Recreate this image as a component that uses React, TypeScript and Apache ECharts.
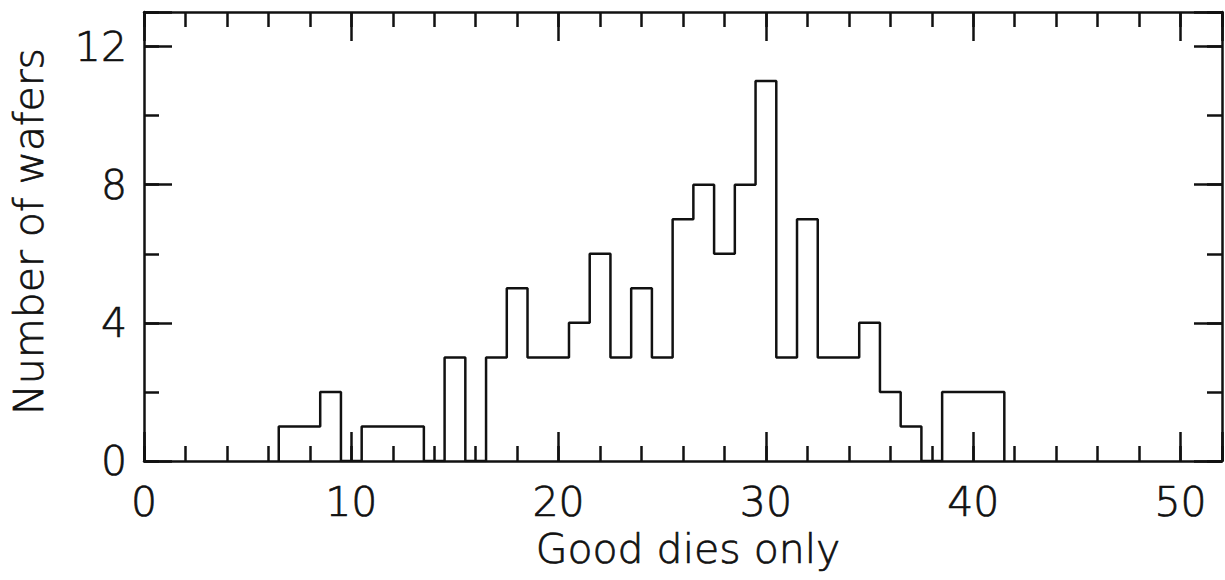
import React, { useEffect, useRef } from "react";
import * as echarts from "echarts";

// Histogram: bin centres (good dies per wafer) and counts (number of wafers)
const binCenters = [7, 8, 9, 10, 11, 12, 13, 14, 15, 16, 17, 18, 19, 20, 21, 22, 23, 24, 25, 26, 27, 28, 29, 30, 31, 32, 33, 34, 35, 36, 37, 38, 39, 40, 41];
const counts = [1, 1, 2, 0, 1, 1, 1, 0, 3, 0, 3, 5, 3, 3, 4, 6, 3, 5, 3, 7, 8, 6, 8, 11, 3, 7, 3, 3, 4, 2, 1, 0, 2, 2, 2];
const binWidth = 1;

const xLabelTicks = [0, 10, 20, 30, 40, 50];
const yLabelTicks = [0, 4, 8, 12];
const xRange = [0, 52];
const yRange = [0, 13];

const xTitle = "Good dies only";
const yTitle = "Number of wafers";

export default function App() {
  const ref = useRef<HTMLDivElement>(null);
  useEffect(() => {
    if (!ref.current) return;
    const chart = echarts.init(ref.current, undefined, { renderer: "svg" });

    // step outline points: leading zero, left edge of each bin, trailing zero
    const pts: number[][] = [];
    pts.push([binCenters[0] - binWidth / 2, 0]);
    binCenters.forEach((c, i) => pts.push([c - binWidth / 2, counts[i]]));
    pts.push([binCenters[binCenters.length - 1] + binWidth / 2, 0]);

    const font = {
      fontFamily: "DejaVu Sans",
      fontWeight: 200 as any,
      color: "#111",
      fontSize: 41,
      textBorderColor: "#111",
      textBorderWidth: 0.7,
    };
    const lw = 2.5;
    const lineStyle = { color: "#111", width: lw };

    const mkX = (pos: "top" | "bottom", major: boolean, labels: boolean) => ({
      type: "value",
      position: pos,
      min: xRange[0],
      max: xRange[1],
      interval: major ? 10 : 2,
      axisLine: { show: major, onZero: false, lineStyle },
      axisTick: { show: true, inside: true, length: major ? 29 : 15, lineStyle },
      splitLine: { show: false },
      axisLabel: labels
        ? {
            show: true,
            margin: 20,
            ...font,
            lineHeight: 42,
            formatter: (v: number) => (xLabelTicks.includes(v) ? String(v) : ""),
          }
        : { show: false },
      ...(labels
        ? {
            name: xTitle,
            nameLocation: "middle",
            nameGap: 66,
            nameTextStyle: { ...font, lineHeight: 42, padding: [0, 0, 0, 10] },
          }
        : {}),
    });

    const mkY = (pos: "left" | "right", major: boolean, labels: boolean) => ({
      type: "value",
      position: pos,
      min: yRange[0],
      max: yRange[1],
      interval: major ? 4 : 2,
      axisLine: { show: major, onZero: false, lineStyle },
      axisTick: { show: true, inside: true, length: major ? 28 : 15, lineStyle },
      splitLine: { show: false },
      axisLabel: labels
        ? {
            show: true,
            margin: 17,
            ...font,
            formatter: (v: number) => (yLabelTicks.includes(v) ? String(v) : ""),
          }
        : { show: false },
      ...(labels
        ? {
            name: yTitle,
            nameLocation: "middle",
            nameGap: 94,
            nameRotate: 90,
            nameTextStyle: { ...font, lineHeight: 42, padding: [0, 0, 0, 10] },
          }
        : {}),
    });

    chart.setOption({
      animation: false,
      backgroundColor: "#ffffff",
      grid: { left: 144, right: 1, top: 12, bottom: 119, containLabel: false },
      xAxis: [mkX("bottom", true, true), mkX("bottom", false, false), mkX("top", true, false), mkX("top", false, false)],
      yAxis: [mkY("left", true, true), mkY("left", false, false), mkY("right", true, false), mkY("right", false, false)],
      series: [
        {
          type: "line",
          xAxisIndex: 0,
          yAxisIndex: 0,
          step: "end",
          data: pts,
          symbol: "none",
          lineStyle: { color: "#111", width: lw },
          z: 1,
        },
      ],
    });
    return () => chart.dispose();
  }, []);
  return <div ref={ref} style={{ position: "absolute", left: 0, top: 0, width: 1225, height: 580, background: "#fff" }} />;
}
